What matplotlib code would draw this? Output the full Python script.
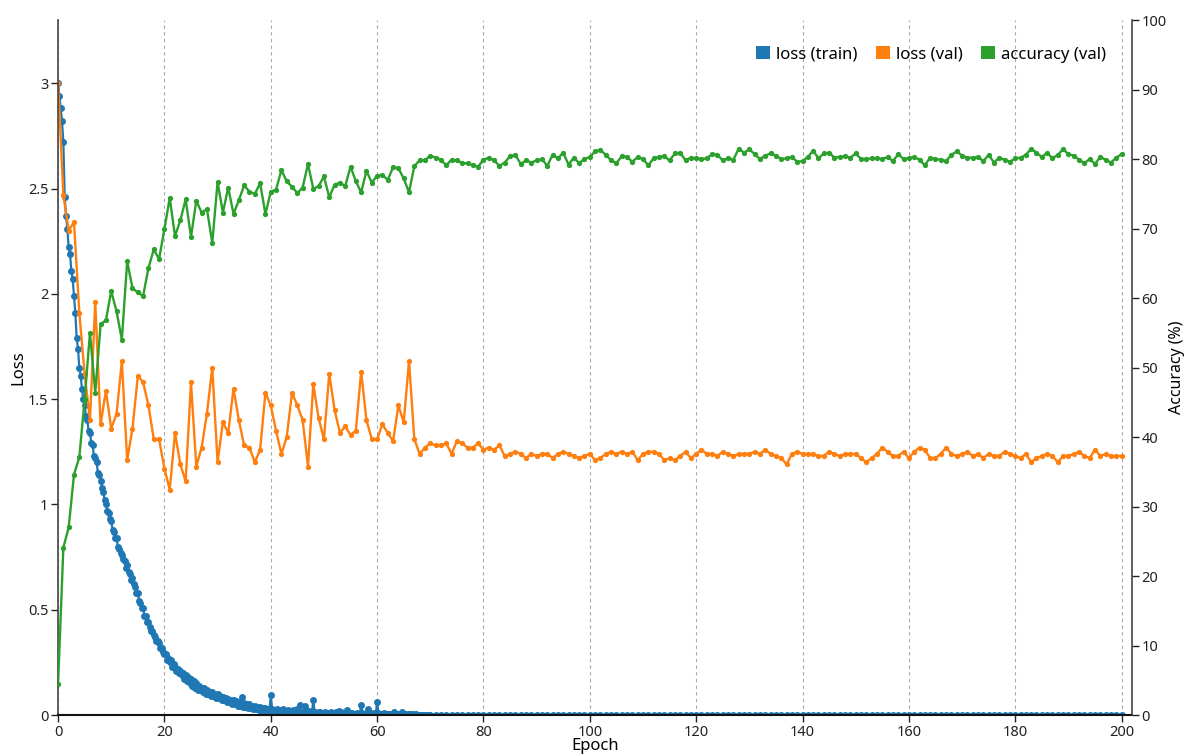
import matplotlib
matplotlib.use("Agg")
import matplotlib.pyplot as plt
import matplotlib.ticker as ticker
from matplotlib.patches import Patch
import numpy as np

plt.rcParams['font.family'] = ['Noto Sans', 'DejaVu Sans']

# training loss, 4 readings per epoch up to epoch 70
train_loss_early = [
    3.00, 2.94, 2.88, 2.82,  2.72, 2.46, 2.37, 2.31,  2.22, 2.19, 2.11, 2.07,
    1.99, 1.91, 1.79, 1.74,  1.65, 1.61, 1.55, 1.50,  1.47, 1.42, 1.40, 1.35,
    1.34, 1.29, 1.28, 1.23,  1.22, 1.20, 1.15, 1.14,  1.11, 1.08, 1.06, 1.02,
    1.00, 0.97, 0.96, 0.93,  0.92, 0.88, 0.87, 0.84,  0.84, 0.80, 0.79, 0.77,
    0.76, 0.74, 0.73, 0.70,  0.71, 0.68, 0.67, 0.64,  0.65, 0.62, 0.61, 0.58,
    0.58, 0.54, 0.53, 0.51,  0.51, 0.47, 0.47, 0.44,  0.44, 0.42, 0.40, 0.40,
    0.38, 0.37, 0.35, 0.35,  0.34, 0.32, 0.32, 0.30,  0.29, 0.29, 0.26, 0.27,
    0.25, 0.26, 0.23, 0.24,  0.23, 0.21, 0.22, 0.20,  0.21, 0.19, 0.20, 0.17,
    0.19, 0.16, 0.18, 0.15,  0.17, 0.14, 0.16, 0.13,  0.15, 0.12, 0.14, 0.12,
    0.13, 0.11, 0.13, 0.10,  0.12, 0.10, 0.11, 0.09,  0.11, 0.09, 0.10, 0.08,
    0.10, 0.08, 0.09, 0.07,  0.085, 0.07, 0.08, 0.06,  0.075, 0.06, 0.07, 0.05,
    0.07, 0.05, 0.065, 0.045,  0.06, 0.045, 0.087, 0.04,  0.055, 0.04, 0.05, 0.035,
    0.05, 0.035, 0.045, 0.03,  0.045, 0.03, 0.04, 0.025,  0.04, 0.025, 0.035, 0.02,
    0.035, 0.02, 0.03, 0.018,  0.095, 0.03, 0.015, 0.025,  0.02, 0.03, 0.012, 0.022,
    0.018, 0.028, 0.01, 0.02,  0.016, 0.025, 0.009, 0.018,  0.015, 0.022, 0.008, 0.017,
    0.03, 0.012, 0.047, 0.015,  0.014, 0.02, 0.045, 0.012,  0.013, 0.018, 0.007, 0.012,
    0.071, 0.015, 0.006, 0.011,  0.012, 0.016, 0.006, 0.01,  0.011, 0.015, 0.005, 0.01,
    0.01, 0.014, 0.005, 0.009,  0.009, 0.013, 0.004, 0.02,  0.009, 0.012, 0.004, 0.008,
    0.008, 0.025, 0.004, 0.008,  0.008, 0.011, 0.003, 0.007,  0.007, 0.01, 0.003, 0.007,
    0.047, 0.01, 0.003, 0.006,  0.006, 0.028, 0.003, 0.006,  0.006, 0.009, 0.002, 0.005,
    0.063, 0.008, 0.002, 0.005,  0.005, 0.008, 0.002, 0.005,  0.004, 0.007, 0.002, 0.004,
    0.004, 0.015, 0.002, 0.004,  0.004, 0.006, 0.002, 0.012,  0.003, 0.006, 0.002, 0.003,
    0.003, 0.005, 0.002, 0.003,  0.002, 0.003, 0.002, 0.002,  0.002, 0.002, 0.002, 0.002,
    0.002, 0.002, 0.002, 0.002,
]

# training loss, one reading per epoch from 70 to 200
train_loss_late = [
    0.002, 0.002, 0.002, 0.001, 0.002, 0.002, 0.001, 0.002, 0.002, 0.002,
    0.001, 0.002, 0.002, 0.001, 0.002, 0.002, 0.002, 0.001, 0.002, 0.001,
    0.002, 0.002, 0.001, 0.002, 0.001, 0.002, 0.002, 0.001, 0.001, 0.002,
    0.001, 0.002, 0.001, 0.001, 0.002, 0.001, 0.001, 0.002, 0.001, 0.001,
    0.001, 0.002, 0.001, 0.001, 0.001, 0.002, 0.001, 0.001, 0.001, 0.001,
    0.002, 0.001, 0.001, 0.001, 0.001, 0.001, 0.002, 0.001, 0.001, 0.001,
    0.001, 0.001, 0.001, 0.001, 0.002, 0.001, 0.001, 0.001, 0.001, 0.001,
    0.001, 0.001, 0.001, 0.001, 0.001, 0.001, 0.001, 0.001, 0.001, 0.001,
    0.001, 0.001, 0.001, 0.001, 0.001, 0.001, 0.001, 0.001, 0.001, 0.001,
    0.001, 0.001, 0.001, 0.001, 0.001, 0.001, 0.001, 0.001, 0.001, 0.001,
    0.001, 0.001, 0.001, 0.001, 0.001, 0.001, 0.001, 0.001, 0.001, 0.001,
    0.001, 0.001, 0.001, 0.001, 0.001, 0.001, 0.001, 0.001, 0.001, 0.001,
    0.001, 0.001, 0.001, 0.001, 0.001, 0.001, 0.001, 0.001, 0.001, 0.001,
    0.001,
]

val_loss = [
    3.00, 2.47, 2.30, 2.34, 1.91, 1.62, 1.40, 1.96, 1.38, 1.54,
    1.36, 1.43, 1.68, 1.21, 1.36, 1.61, 1.58, 1.47, 1.31, 1.31,
    1.17, 1.07, 1.34, 1.19, 1.11, 1.58, 1.18, 1.27, 1.43, 1.65,
    1.20, 1.39, 1.34, 1.55, 1.40, 1.28, 1.27, 1.20, 1.26, 1.53,
    1.47, 1.35, 1.24, 1.32, 1.53, 1.47, 1.40, 1.18, 1.57, 1.41,
    1.31, 1.62, 1.45, 1.34, 1.37, 1.33, 1.35, 1.63, 1.40, 1.31,
    1.31, 1.38, 1.34, 1.30, 1.47, 1.39, 1.68, 1.31, 1.24, 1.27,
    1.29, 1.28, 1.28, 1.29, 1.24, 1.30, 1.29, 1.27, 1.27, 1.29,
    1.26, 1.27, 1.26, 1.28, 1.23, 1.24, 1.25, 1.24, 1.22, 1.24,
    1.23, 1.24, 1.24, 1.22, 1.24, 1.25, 1.24, 1.23, 1.22, 1.23,
    1.24, 1.21, 1.22, 1.24, 1.25, 1.24, 1.25, 1.24, 1.25, 1.21,
    1.24, 1.25, 1.25, 1.24, 1.21, 1.22, 1.21, 1.23, 1.25, 1.22,
    1.24, 1.26, 1.24, 1.24, 1.23, 1.25, 1.24, 1.23, 1.24, 1.24,
    1.24, 1.25, 1.24, 1.26, 1.24, 1.23, 1.22, 1.19, 1.24, 1.25,
    1.24, 1.24, 1.24, 1.23, 1.23, 1.25, 1.24, 1.23, 1.24, 1.24,
    1.24, 1.22, 1.20, 1.22, 1.24, 1.27, 1.25, 1.23, 1.23, 1.25,
    1.22, 1.25, 1.27, 1.26, 1.22, 1.22, 1.24, 1.27, 1.24, 1.23,
    1.24, 1.25, 1.23, 1.24, 1.22, 1.24, 1.23, 1.23, 1.25, 1.24,
    1.23, 1.22, 1.24, 1.20, 1.22, 1.23, 1.24, 1.23, 1.20, 1.23,
    1.23, 1.24, 1.25, 1.23, 1.22, 1.26, 1.23, 1.24, 1.23, 1.23,
    1.23,
]

val_acc = [
    4.4, 24.1, 27.0, 34.6, 37.1, 45.4, 55.0, 46.4, 56.2, 56.8,
    61.0, 58.1, 54.0, 65.3, 61.4, 60.8, 60.3, 64.3, 67.0, 65.6,
    69.9, 74.4, 68.9, 71.2, 74.2, 68.8, 74.0, 72.3, 72.8, 67.9,
    76.7, 72.3, 75.9, 72.1, 74.1, 76.2, 75.3, 75.0, 76.5, 72.1,
    75.3, 75.6, 78.4, 76.8, 76.0, 75.1, 75.9, 79.3, 75.7, 76.1,
    77.5, 74.5, 76.3, 76.6, 76.1, 78.9, 76.8, 75.2, 78.3, 76.6,
    77.6, 77.7, 77.0, 78.8, 78.7, 77.2, 75.2, 79.0, 79.8, 79.8,
    80.5, 80.2, 79.9, 79.1, 79.9, 79.8, 79.4, 79.4, 79.1, 78.9,
    79.9, 80.2, 79.8, 79.0, 79.5, 80.4, 80.6, 79.3, 79.8, 79.5,
    79.8, 80.0, 79.0, 80.6, 80.1, 80.9, 79.2, 80.2, 79.4, 80.0,
    80.3, 81.1, 81.3, 80.6, 79.8, 79.4, 80.4, 80.3, 79.6, 80.3,
    80.0, 79.1, 80.1, 80.3, 80.4, 79.8, 80.8, 80.9, 79.8, 80.2,
    80.1, 80.0, 80.1, 80.7, 80.6, 79.8, 80.1, 79.9, 81.5, 80.9,
    81.4, 80.7, 80.0, 80.5, 80.8, 80.5, 80.0, 80.1, 80.3, 79.6,
    79.7, 80.3, 81.2, 80.1, 80.8, 80.9, 80.2, 80.3, 80.4, 80.2,
    80.8, 80.0, 80.0, 80.1, 80.1, 80.0, 80.3, 79.7, 80.7, 80.0,
    80.1, 80.3, 79.9, 79.1, 80.2, 80.0, 79.9, 79.7, 80.6, 81.1,
    80.5, 80.2, 80.2, 80.3, 79.7, 80.6, 79.5, 80.2, 79.9, 79.6,
    80.1, 80.2, 80.6, 81.5, 80.9, 80.3, 80.9, 80.1, 80.6, 81.4,
    80.7, 80.5, 79.9, 79.4, 80.0, 79.3, 80.3, 79.9, 79.5, 80.2,
    80.7,
]

legend_labels = ['loss (train)', 'loss (val)', 'accuracy (val)']
c_train, c_val, c_acc = '#1f77b4', '#ff7f0e', '#2ca02c'

train_epoch = np.concatenate([np.arange(len(train_loss_early)) / 4.0,
                              70 + np.arange(len(train_loss_late))])
val_epoch = np.arange(len(val_loss))

fig = plt.figure(figsize=(11.87, 7.56), dpi=100)
ax1 = fig.add_axes([0.0489, 0.0542, 0.9045, 0.9193])
ax2 = ax1.twinx()

ax1.plot(train_epoch, np.array(train_loss_early + train_loss_late), '-o',
         color=c_train, lw=1.6, ms=5.0, mew=0)
ax1.plot(val_epoch, val_loss, '-o', color=c_val, lw=1.7, ms=3.8, mew=0)
ax2.plot(val_epoch, val_acc, '-o', color=c_acc, lw=1.7, ms=3.8, mew=0)

ax1.set_xlim(0, 201.9)
ax1.set_ylim(0, 3.30)
ax2.set_ylim(0, 100)

ax1.set_xticks(np.arange(0, 201, 20))
ax1.set_yticks([0, 0.5, 1, 1.5, 2, 2.5, 3])
ax1.yaxis.set_major_formatter(ticker.FormatStrFormatter('%g'))
ax2.set_yticks(np.arange(0, 101, 10))

ax1.grid(axis='x', linestyle=(0, (3, 3)), color='#a8a8a8', linewidth=0.8)
ax1.set_axisbelow(True)

for ax in (ax1, ax2):
    ax.tick_params(direction='out', length=5, width=1, labelsize=10.5,
                   colors='#222222', pad=2)
    ax.spines['top'].set_visible(False)
ax1.spines['right'].set_visible(False)
ax2.spines['left'].set_visible(False)
ax2.spines['bottom'].set_visible(False)
ax1.spines['left'].set_color('#444444')
ax2.spines['right'].set_color('#444444')
ax1.spines['bottom'].set_color('#111111')
ax1.spines['left'].set_linewidth(1.2)
ax2.spines['right'].set_linewidth(1.2)
ax1.spines['bottom'].set_linewidth(1.5)

ax1.set_xlabel('Epoch', fontsize=12, labelpad=-1)
ax1.set_ylabel('Loss', fontsize=12, va='center')
ax1.yaxis.set_label_coords(-0.037, 0.5)
ax2.set_ylabel('Accuracy (%)', fontsize=11.5, va='center')
ax2.yaxis.set_label_coords(1.042, 0.5)

handles = [Patch(facecolor=c) for c in (c_train, c_val, c_acc)]
ax2.legend(handles, legend_labels, loc='upper right', bbox_to_anchor=(0.982, 0.972),
           ncol=3, frameon=False, fontsize=12, handlelength=0.85, handleheight=0.85,
           handletextpad=0.35, columnspacing=1.1, borderaxespad=0)

fig.savefig('out.png', dpi=100)
